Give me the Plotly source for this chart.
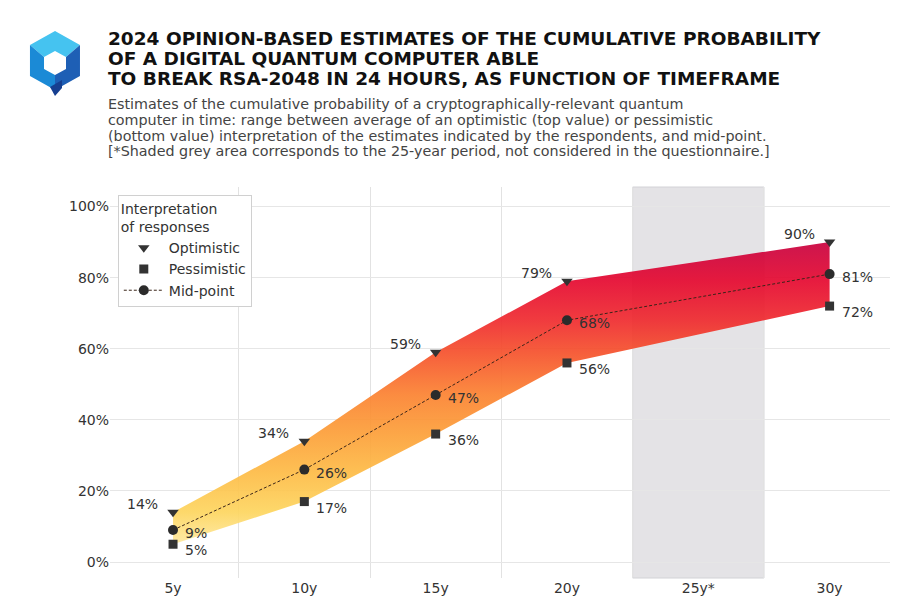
import plotly.graph_objects as go

# data
years = [5, 10, 15, 20, 30]
optimistic = [14, 34, 59, 79, 90]
pessimistic = [5, 17, 36, 56, 72]
midpoint = [9, 26, 47, 68, 81]

tick_years = [5, 10, 15, 20, 25, 30]
tick_labels = ["5y", "10y", "15y", "20y", "25y*", "30y"]
y_ticks = [0, 20, 40, 60, 80, 100]
skipped_period = [22.5, 27.5]

title_lines = [
    "2024 OPINION-BASED ESTIMATES OF THE CUMULATIVE PROBABILITY",
    "OF A DIGITAL QUANTUM COMPUTER ABLE",
    "TO BREAK RSA-2048 IN 24 HOURS, AS FUNCTION OF TIMEFRAME",
]
subtitle_lines = [
    "Estimates of the cumulative probability of a cryptographically-relevant quantum",
    "computer in time: range between average of an optimistic (top value) or pessimistic",
    "(bottom value) interpretation of the estimates indicated by the respondents, and mid-point.",
    "[*Shaded grey area corresponds to the 25-year period, not considered in the questionnaire.]",
]

# band colours by probability level (yellow -> orange -> red -> crimson)
band_stops = [0, 5, 14, 25, 36, 47, 59, 68, 79, 90, 100]
band_colors = [(255, 242, 184), (254, 233, 160), (253, 213, 94), (253, 187, 69), (252, 159, 56),
               (251, 130, 48), (245, 80, 43), (239, 42, 46), (229, 8, 47), (200, 0, 62), (184, 0, 63)]
band_scale = [[s / 100, f"rgba({r},{g},{b},0.92)"] for s, (r, g, b) in zip(band_stops, band_colors)]

# page is offset by the browser's 8px body margin
OFF = 8
W, H = 896, 608
L, R, T, B = 102, 14, 179, 38
PW, PH = W - L - R, H - T - B
FONT = "DejaVu Sans"
TXT = "#333333"


def px(x):
    return (x - OFF - L) / PW


def py(y):
    return (H - B - (y - OFF)) / PH


def path(points):
    return "M " + " L ".join(f"{px(a):.4f},{py(b):.4f}" for a, b in points) + " Z"


fig = go.Figure()

# filled range between pessimistic and optimistic
fig.add_trace(go.Scatter(x=years, y=pessimistic, mode="lines",
                         line=dict(width=0), showlegend=False, hoverinfo="skip"))
fig.add_trace(go.Scatter(x=years, y=optimistic, mode="lines", fill="tonexty",
                         line=dict(width=0), showlegend=False, hoverinfo="skip",
                         fillgradient=dict(type="vertical", start=0, stop=100,
                                           colorscale=band_scale)))

fig.add_trace(go.Scatter(x=years, y=optimistic, mode="markers", name="Optimistic",
                         marker=dict(symbol="triangle-down", size=10, color="#333333")))
fig.add_trace(go.Scatter(x=years, y=pessimistic, mode="markers", name="Pessimistic",
                         marker=dict(symbol="square", size=9, color="#333333")))
fig.add_trace(go.Scatter(x=years, y=midpoint, mode="lines+markers", name="Mid-point",
                         line=dict(color="#3a2418", width=1, dash="3px,2px"),
                         marker=dict(symbol="circle", size=10, color="#2b2b2b")))

# value labels
for x, v in zip(years, optimistic):
    fig.add_annotation(x=x, y=v, text=f"{v}%", showarrow=False, xanchor="right",
                       xshift=-13, yshift=8, font=dict(size=14, color=TXT, family=FONT))
for x, v in zip(years, pessimistic):
    fig.add_annotation(x=x, y=v, text=f"{v}%", showarrow=False, xanchor="left",
                       xshift=10, yshift=-6, font=dict(size=14, color=TXT, family=FONT))
for x, v in zip(years, midpoint):
    fig.add_annotation(x=x, y=v, text=f"{v}%", showarrow=False, xanchor="left",
                       xshift=10, yshift=-3, font=dict(size=14, color=TXT, family=FONT))

# grey area for the 25-year period
fig.add_shape(type="rect", xref="x", yref="paper", x0=skipped_period[0], x1=skipped_period[1],
              y0=0, y1=1, layer="below", fillcolor="#e4e3e6",
              line=dict(color="#d2d2d6", width=1))

# title block
for i, line in enumerate(title_lines):
    fig.add_annotation(xref="paper", yref="paper", x=px(106), y=py(38 + i * 20.5),
                       xanchor="left", yanchor="middle", showarrow=False, text=f"<b>{line}</b>",
                       font=dict(size=18.5, color="#111111", family=FONT))
for i, line in enumerate(subtitle_lines):
    fig.add_annotation(xref="paper", yref="paper", x=px(106), y=py(104 + i * 15.8),
                       xanchor="left", yanchor="middle", showarrow=False, text=line,
                       font=dict(size=14.3, color="#444444", family=FONT))

# logo (isometric cube with hexagonal hole)
o_top, o_lt, o_lb, o_bot, o_rb, o_rt = (55, 31), (30, 45), (30, 76), (55, 90), (80, 76), (80, 45)
i_top, i_lt, i_lb, i_bot, i_rb, i_rt = (55, 51), (44, 57), (44, 69), (55, 75), (66, 69), (66, 57)
logo_faces = [
    ([o_top, o_lt, i_lt, i_top, i_rt, o_rt], "#45c3f0"),
    ([o_lt, o_lb, o_bot, i_bot, i_lb, i_lt], "#1b8ad6"),
    ([o_rt, i_rt, i_rb, i_bot, o_bot, o_rb], "#1e5fb5"),
    ([(50, 87), (62, 80), (62, 88), (55, 96)], "#163f90"),
]
for pts, col in logo_faces:
    fig.add_shape(type="path", xref="paper", yref="paper", path=path(pts),
                  fillcolor=col, line=dict(width=0), layer="above")

fig.update_layout(
    width=W, height=H,
    margin=dict(l=L, r=R, t=T, b=B),
    plot_bgcolor="white", paper_bgcolor="white",
    font=dict(family=FONT, size=14, color=TXT),
    showlegend=True,
    legend=dict(
        title=dict(text="Interpretation<br>of responses", font=dict(size=14, color=TXT)),
        x=0.01, y=0.98, xanchor="left", yanchor="top", traceorder="normal",
        bgcolor="white", bordercolor="#d0d0d0", borderwidth=1,
        font=dict(size=14, color=TXT), itemwidth=40,
    ),
    xaxis=dict(
        range=[2.6, 32.3], tickvals=tick_years, ticktext=tick_labels,
        showgrid=False, zeroline=False, showline=False, ticks="",
        tickfont=dict(size=14, color=TXT),
        minor=dict(tickvals=[7.5, 12.5, 17.5, 22.5, 27.5], showgrid=True,
                   gridcolor="#e2e2e2", gridwidth=1, ticks=""),
    ),
    yaxis=dict(
        range=[-4.5, 105.5], tickvals=y_ticks, ticktext=[f"{v}%" for v in y_ticks],
        showgrid=True, gridcolor="#e6e6e6", gridwidth=1, zeroline=False,
        showline=False, ticks="", tickfont=dict(size=14, color=TXT),
    ),
)

fig.write_html("out.html")
